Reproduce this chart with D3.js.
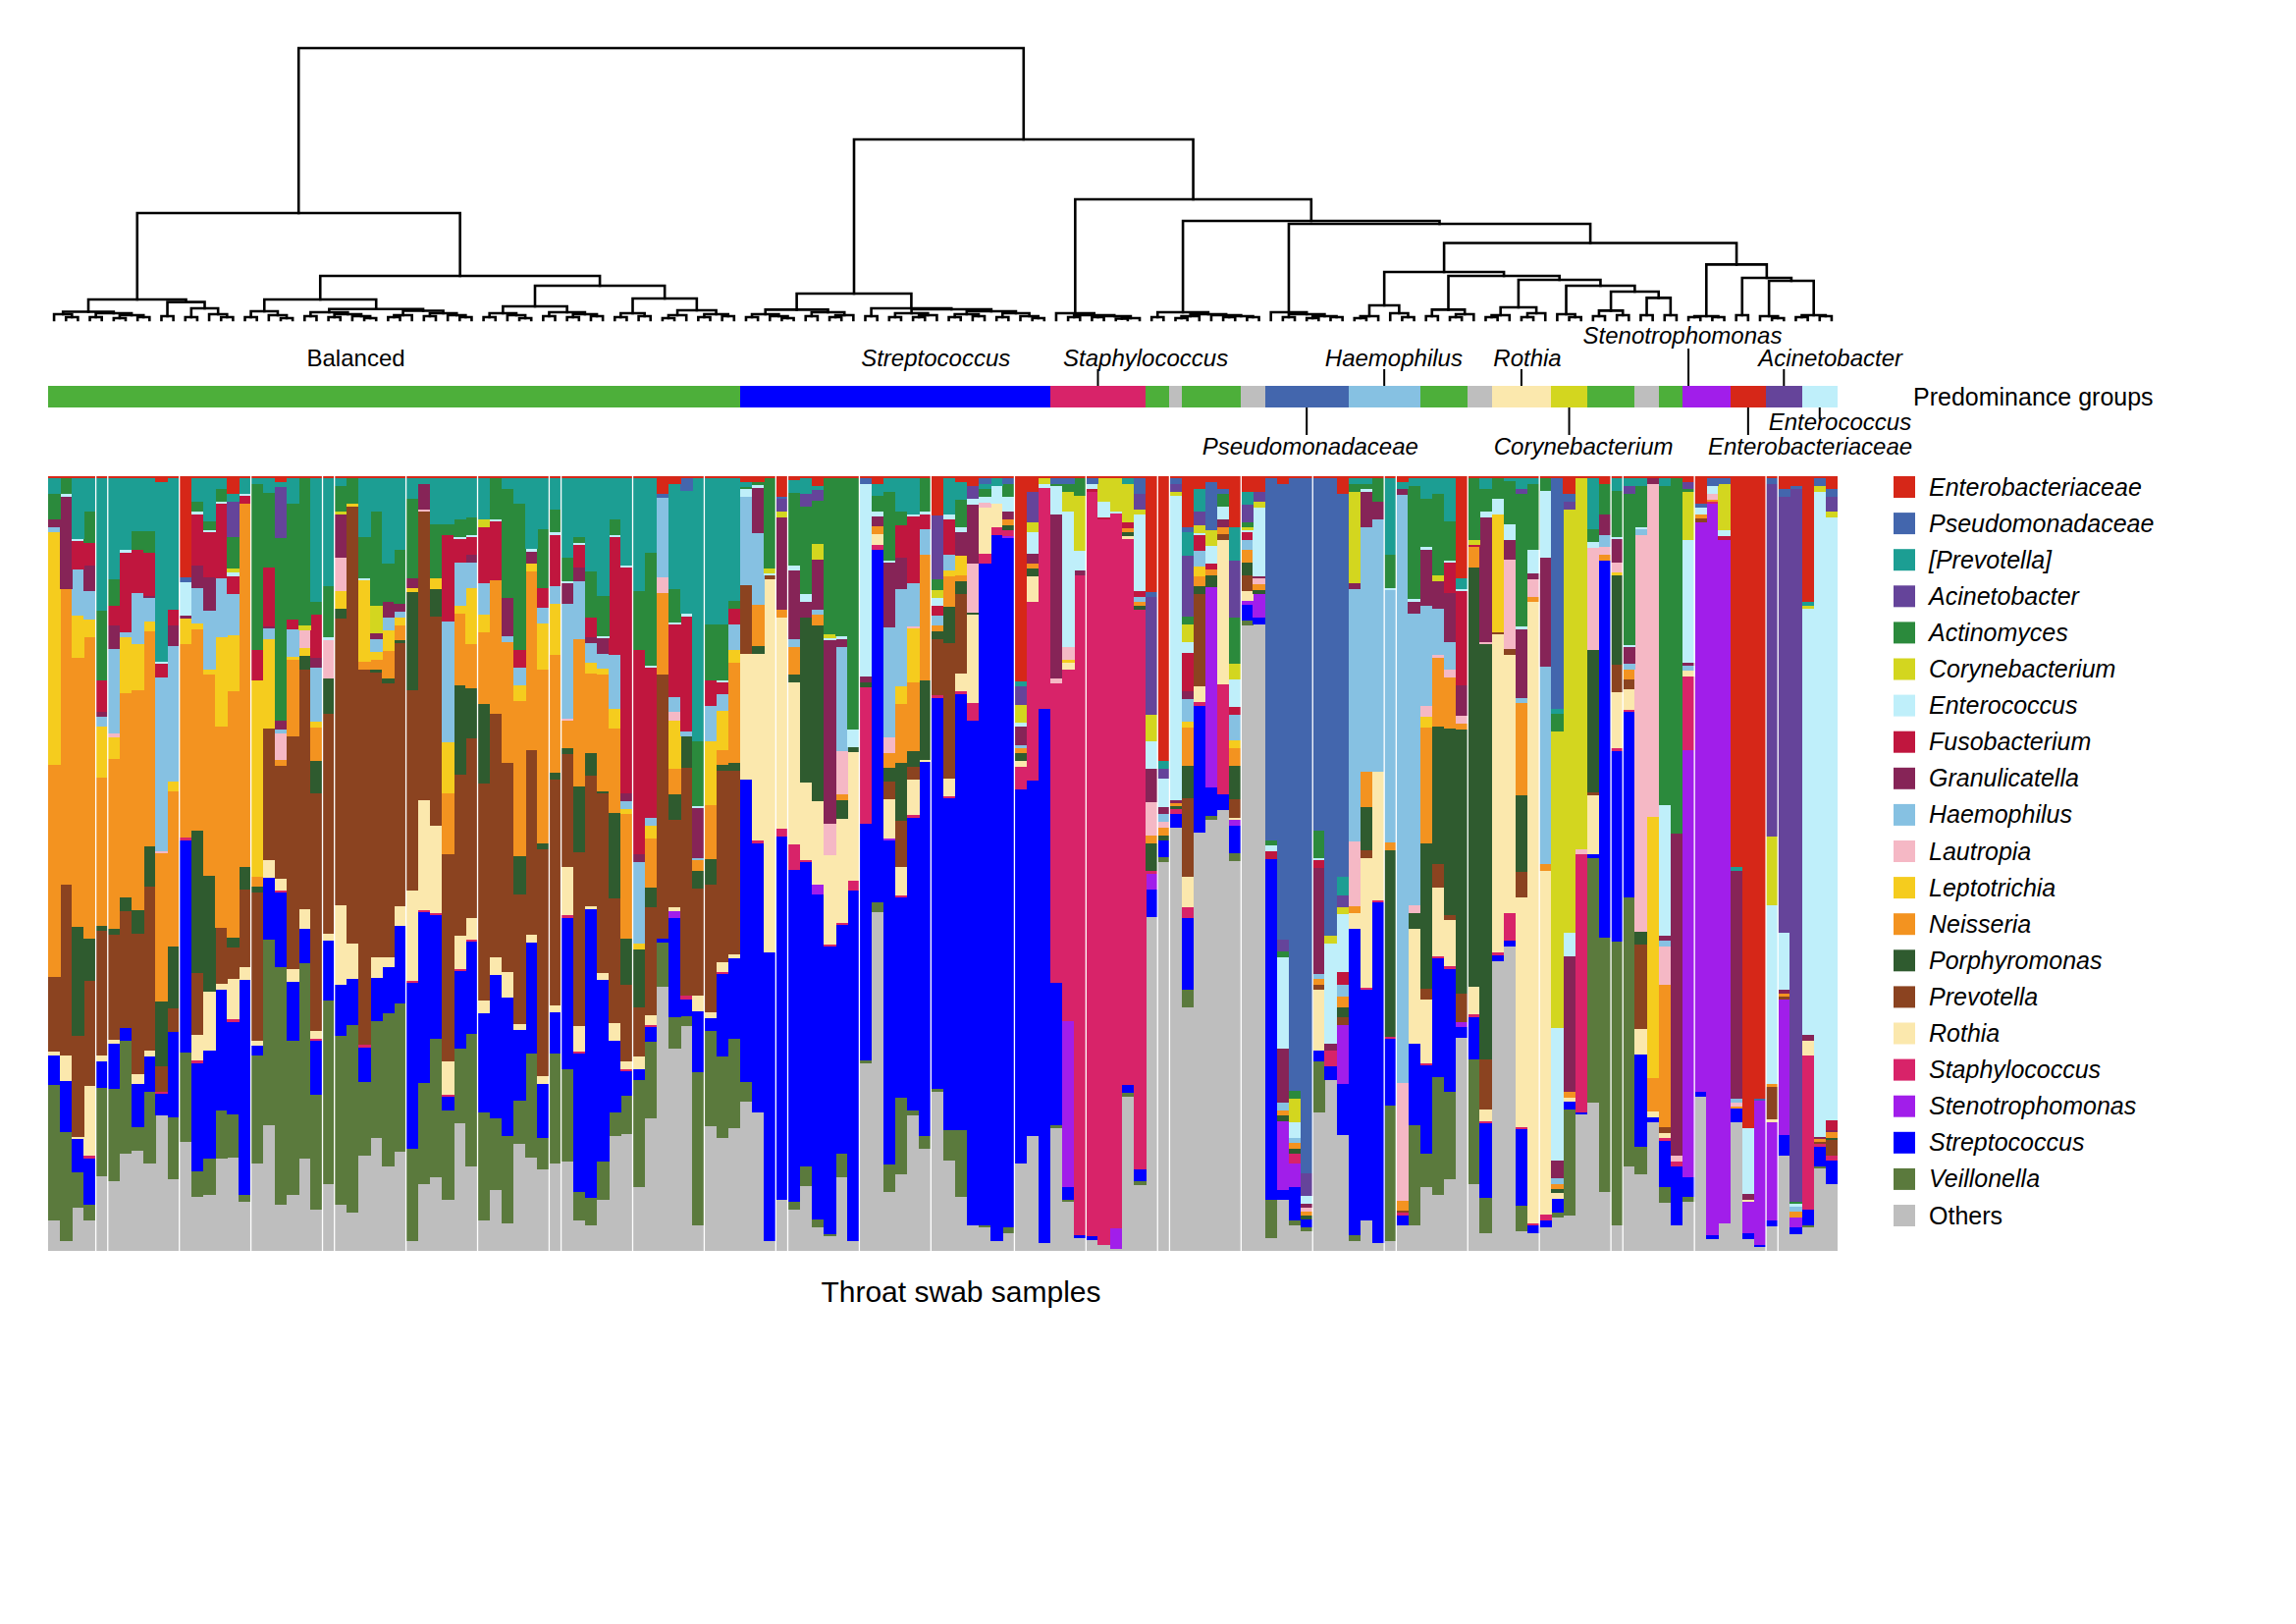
<!DOCTYPE html>
<html><head><meta charset="utf-8">
<script src="https://cdn.jsdelivr.net/npm/d3@7"></script>
<style>html,body{margin:0;padding:0;background:#fff}svg{display:block}</style>
</head><body>
<svg id="chart" width="2339" height="1654"></svg>
<script>
// ---------- taxa (legend order = stack order top -> bottom) ----------
const taxa = ["Enterobacteriaceae","Pseudomonadaceae","[Prevotella]","Acinetobacter","Actinomyces","Corynebacterium","Enterococcus","Fusobacterium","Granulicatella","Haemophilus","Lautropia","Leptotrichia","Neisseria","Porphyromonas","Prevotella","Rothia","Staphylococcus","Stenotrophomonas","Streptococcus","Veillonella","Others"];
const taxonCodes = ["E","p","t","a","x","c","e","f","g","h","l","y","n","m","b","r","s","z","k","v","o"];
const taxonColors = ["#D62718","#4366AD","#1C9E93","#65449A","#2B8A3C","#D3D61F","#BFEFFA","#C0163E","#862457","#86C1E2","#F5B8C5","#F5CC1E","#F39320","#2F5B2F","#8B4320","#FBE8AD","#D82369","#A11EEA","#0000FF","#5B7A3D","#BEBEBE"];

// ---------- per-sample relative abundances (%), samples in dendrogram order ----------
const balancedCluster = [
"E0.3 t2 x3.3 g1 h0.7 y30 n27.5 b9.6 r0.5 k3.8 v17.5 o4",
"E0.3 x2 e0.3 g12 n38 b22 r3.3 k6.6 v14 o1.3",
"E0.3 t7.8 e0.3 f3.7 h6 y5.4 n34.8 m14.2 b13 r0.3 k4.3 v4.6 o5.6",
"E0.3 t4.3 x4 f3 g3.3 h3.6 y2.3 n39 m5.5 b13.6 r9 s0.3 k6 v2 o4",
"E0.3 t17 x9 f4 g0.6 h1.3 y6.6 n19 m0.7 b16 r0.7 k3.5 v11.3 o9.6",
"E0.3 t13 x3.4 f2.6 g3 h11 l0.5 y2.8 n22 m0.7 b13.6 r0.5 k5.8 v12 o9",
"E0.3 t9.3 e0.3 f10.3 h0.7 y7.3 n26.5 m1.7 b15.2 k1.7 v14.6 o12.6",
"E0.3 t6.8 x2.5 f5.6 h6.6 y6 n28.5 m3 b18.2 r1.3 k5.6 v3 o13",
"E0.3 t6.8 x2.8 f5.6 g0.3 h3 y1.3 n27.8 m5.3 b21.2 r0.7 k4.6 v9.3 o11.3",
"E0.7 t23.3 e0.3 f1.7 h22.5 l0.3 n19.2 m8.3 b3.3 s0.3 k2.8 o17.5",
"E0.3 t17 f2 g2.6 h17.5 y1.3 n20 m8 b3 k11 v8 o9.3",
"E13 p0.7 e4.3 g0.3 y3.3 n25 s0.3 k27.3 v11.6 o14",
"E0.3 t3 x1.3 e0.3 f6.6 g3 h4.6 y0.7 n26 m18.5 b8 r3.3 s0.3 k14 v3.3 o7",
"E0.3 t5.6 x1.1 e0.3 f5.8 g4.3 h7.6 y0.7 n26 m15 r7.6 k14 v4.6 o7.3",
"E0.3 t1.3 x1.7 e0.3 f9.6 h7.6 y11.6 n26 b7.3 r0.7 k15.6 v6.3 o11.9",
"E2.3 t1 a4.6 x4 c0.5 e0.5 f2.3 h5.3 y7.3 n31.8 m1.3 b4 r5.3 s0.3 k12 v5.6 o12",
"E0.3 t2 f1 e0.3 n47 m3 b10 r1.7 k27.8 v1 o6.3",
"E0.3 t0.7 x21.5 f4 y25.5 n1.3 m0.7 b19.2 r0.7 k1.3 v14 o11.3",
"E0.3 t1.8 x9.7 f7.6 g0.3 h1.3 y11.6 b17 r2.3 k8 v24 o16.2",
"E0.7 t0.7 a6.6 x23.7 g1.1 h0.5 l3.5 n0.7 b14.6 r1.5 s0.3 k9.6 v30.8 o6",
"E0.3 t3.2 x15 f1.3 h3.6 y0.3 n10 b30 r1.7 k7.6 v19.9 o7.3",
"E0.3 x19 c0.7 l2.3 y1 m1.7 b31 r2.6 k4.5 v25.3 o11.9",
"E0.3 t16 x1.7 f5.6 g1.3 h7 y0.7 n4.3 m4.3 b30.8 r1 s0.3 k7 v14.9 o5.3",
"E0.3 t14 x6.6 e0.3 l5 m4.6 b28.5 r0.8 k7.8 v23.8 o8.6",
"E0.3 t1 x3.3 c0.3 g5.6 l4.4 y2.2 m1.3 b37 r10.3 k6.6 v21.8 o6",
"E0.3 x3.3 y0.3 b56.6 r4.6 k6 v24.2 o5",
"E0.3 t7.6 x5.3 e0.3 y10.6 n1 b48.7 s0.3 k4.5 v9.6 o12.3",
"E0.3 t4.3 x12.2 c3.6 g0.7 h1.7 y1 n1.3 m0.3 b36.9 r2.6 k5.6 v15.2 o14.6",
"E0.3 t11 x5 g2 h1.7 y2.6 n3.6 m0.7 b35.4 r1.3 k6 v19.9 o10.9",
"E0.3 t9.3 x7 g1 h0.7 y1 n2 m0.3 b34.1 r2.6 k10 v19.2 o12.9",
"E0.3 t2.6 x10.3 g1.3 y0.5 m12.6 b26 r11.6 s0.3 k21.4 v11.9 o1.3",
"E0.3 t0.7 g3.3 l0.3 b37.4 r14.2 s0.3 k22 v13.2 o8.6",
"E0.3 t6 x7 y1.3 m3.6 b27.2 r11.3 s0.3 k16.1 v17.9 o9.6",
"E0.3 t6 x1.3 f11.3 h15.6 y6.6 n8 b26.8 r4.3 s0.3 k1.8 v11.6 o6.6",
"E0.3 t5.3 x2.3 e0.3 f3 h5.6 y1 n9.3 m11.6 b20.9 r4.3 s0.3 k10.1 v9.6 o16.6",
"E0.3 t5 x2.3 e0.3 f2.3 g1 h3.3 y7.3 n5.6 m6.6 b23.2 r2.8 s0.3 k11.9 v17.2 o10.9",
"E0.3 t5.3 c1 f7.3 h4 y2.3 n9.3 m10.3 b28.1 r1.7 k12.9 v13.9 o4",
"E0.3 x5.3 e0.3 f7.6 n17.2 b31.5 r2.3 k18.5 v9.3 o7.9",
"E0.3 t1.3 x14.2 g5 h0.7 n15.6 b27.2 r3.3 k17.9 v11.3 o3.6",
"E0.3 t3.3 x19 f2.3 h2.3 y2 n20.2 m5 b16.9 r0.7 k9.3 v5.6 o13.9",
"E0.3 t9 e0.3 g1.5 y1 n22.8 b23.5 r1 k14.2 v13.2 o11.9",
"E0.3 t6.6 x7.6 f2.6 h2 y6 n22.5 m0.7 b29.5 r1 k7 v4 o10.6",
"E0.3 t4 x3 e0.3 f6.6 h2.3 y6.6 n15.2 m1 b29.1 r1 k5.3 v14.2 o11.3",
"E0.3 t10.3 x3 e0.3 g2.6 h14.9 l0.3 n3.6 m0.7 b14.6 r6.3 s0.3 k19.7 v11.9 o11.6",
"E0.3 t7.6 x0.7 e0.3 f3 g1.7 h7.6 n19 m8.6 b22.5 r3.3 s0.3 k18 v3.6 o4",
"E0.3 t12 x6 f2.6 g0.7 h2.6 y1.3 n10.3 m3 b16.9 r0.3 k37.4 v3.6 o3.3",
"E0.3 t15.2 x5.2 e0.3 g2 h2 y0.7 n15.2 m0.3 b23.2 r1 k23.5 v5 o6.6",
"E0.3 t5.3 x2 e0.3 f15.2 h7 y2.6 n11 m11 b16.2 r2.3 k9.3 v3 o14.9",
"E0.3 t11.3 e0.3 f29.3 g1 h1 y0.7 n16.2 m6 b9.9 r1 s0.3 k3.1 v5 o15.2",
"E0.3 t14.6 x7.6 f26.5 g1 h10.6 y0.7 m7.6 b6.3 r1.7 k1.3 v13.9 o8.3",
"E0.3 t9.6 x14.6 e0.3 f19.5 h1 y1.7 n6.3 m2.6 b13.9 r1.3 s0.3 k1.9 v9.9 o17.2",
"E2.3 p0.5 h10.3 l2 n10.6 b34.1 k0.5 v5.8 o34.1",
"E1 t13.6 x4.3 e0.3 f9.4 h1.9 l1.1 y6.2 n3.3 m3.4 b11.3 r0.5 z0.9 k12.8 v4 o26.2",
"E0.3 p1.6 t15.9 e0.3 f14.9 h0.7 m4 b29.5 s0.5 k2.1 v1.3 o29.1",
"E0.3 t34.1 x8.3 e0.3 g6.5 h0.3 n1.3 m2.3 b13.9 r2 k7.9 v19.9 o3.3",
"E0.3 t18.9 x7.3 f3.3 h4.6 y8.3 n7 m3.3 b16.6 r0.7 k1.7 v12.3 o16.2",
"E0.3 t18.9 x7.3 e0.3 f1.5 h2.2 y5 n2 m0.7 b24.8 r1.3 s0.3 k10.7 v10.5 o14.7",
"E0.3 t15.9 x1 f2 h3.3 y1.7 n12.9 m1 b23.8 r0.5 k10.4 v11.6 o15.9"
];
const streptococcusCluster = [
"E0.7 t0.7 x0.3 e1 h11.3 b8.9 r16.2 k39 v2.6 o19.2",
"E0.7 x0.5 e0.3 g5.8 h9.3 n5.3 m1 r24.2 s0.3 k34.8 o17.9",
"E0.3 x11.6 c0.7 e0.3 b0.5 r48.3 k37.4 o1.3",
"E2.6 p0.3 a1.7 c0.7 g11.9 n1 r27.2 s1 k46.7 o6.6",
"E0.5 t1.7 x9.3 e0.7 g8.9 h1 n3.6 m1 r20.9 s3.3 k43 v1 o5.3",
"E0.3 t2 a1.6 x11.3 e1 g2 m21.2 r9.9 s0.3 k39.1 v2.6 o8.3",
"E1.3 t0.5 a1.3 x5.6 c2 g6.3 h0.7 n1.3 m22.5 r10.6 z1.3 k41.4 v1 o3",
"E0.3 x20.2 c0.5 e0.3 g23.8 l4 r11.6 s0.3 k37.2 v0.3 o1.9",
"E0.3 x20.5 e0.3 g1 h13.6 l5.6 n0.7 m2.5 r13.4 s0.3 k29.7 v3 o9.6",
"E0.3 x32.5 e2.3 m0.7 r16.6 s1.3 k45.4 o1.3",
"E0.3 p0.7 e24.8 g0.7 m0.7 s17.6 k30.5 v0.3 o24.2",
"E1 t1.5 x2 e0.7 g1.3 n1 r1.3 s0.7 k45.4 v1.3 o43.7",
"E0.3 t1.7 x8.9 e0.3 g8.3 h14.2 l2 n1.9 m1.8 b2.3 r5 z0.3 k41.7 v3.6 o7.6",
"E0.3 t4.3 x1.7 f4.3 g4 h12.6 y2.3 n7.6 m7.6 b6 r3.6 s0.3 k26 v9.9 o9.9",
"E0.3 t4.6 e0.3 f8.6 h5.6 l0.3 y7 n8.9 m2 b1.7 r4.6 s0.3 k37.9 v0.7 o17.5",
"E0.3 x4.3 e0.3 f2 h3.3 n16.2 m10.3 r0.3 k48.3 v1.7 o13.2",
"E5 a8.3 x1.3 c1 e1 f1.3 h1.3 n0.7 m1 b7.3 s0.3 k50.3 v0.3 o20.5",
"E0.3 t4.6 e0.7 f4.6 h2 y0.7 n4 m4.6 b17.5 r2.3 s0.3 k42.8 v4 o11.6",
"E0.7 t2.3 x3.6 e0.7 g3 y2.6 n0.7 m1.7 b10.3 r2.3 s0.3 k56.5 v8.6 o7",
"E1.3 a1.6 e0.7 g7.6 l6.3 m0.3 r11.3 s2.3 k64.9 o3.3",
"E0.3 p0.7 t0.7 x1 e0.7 l0.7 r6 s1.3 k86 v0.3 o3",
"E0.3 t1 e2.3 r3 s1 k91.4 o1.3",
"E0.3 p0.7 x1.6 e2 g1 n0.7 m0.7 s0.7 z0.3 k89 v0.7 o2.3",
"E26.5 t0.7 a2.3 c2.3 e0.5 g2.5 h0.3 n0.7 m1 r0.7 s3 k48.3 o11.3",
"E2 a4 c1.2 e2.8 g1.3 n0.7 m1 r3.3 s23.2 k46 o14.9",
"E0.3 c0.7 e0.5 s28.8 k69.5 o1"
];
const staphylococcusCluster = [
"E0.3 p0.7 x0.3 e3.6 g21.2 l0.7 s38.7 k18.5 v0.3 o15.9",
"E0.3 p0.7 x1 c2.6 e17.5 l1.7 y0.3 r1 s45.4 z21.5 k1.7 v0.3 o6.3",
"E0.3 x2.3 c7 e2.6 g0.7 s85.4 k0.3 o1.7",
"E0.3 p0.7 e0.7 f0.3 s96.4 k0.5 o1.4",
"E0.3 c3 e2 f0.3 s94 o0.7",
"E0.3 c4.3 e0.3 s92.7 z2.6 o0.3",
"E0.3 t0.7 c5 f0.7 n0.5 m0.5 r0.5 s70.7 k1 v0.5 o20",
"E0.3 p2 a2 c0.7 e9.9 f0.7 h0.7 n0.5 m0.5 s72.6 k1.5 v0.5 o8.5"
];
const mixedClusterA = [
"E14.9 p0.7 a15.2 c3.3 e3.6 g4.3 l4.3 n1 m3.6 s0.3 z2 k3.6 o43",
"E36.8 t1 a1.3 e3.6 g1 h1 l0.7 n1 m0.7 k2.1 v0.7 o50.2",
"E0.3 p0.7 a1 c0.5 e39.6 g0.3 n0.5 m0.3 s0.7 k1.7 o55",
"E6.6 p0.7 t3 a7.9 x1 c2.3 e1.3 f5 g1 h3 y0.7 n5 m4.2 b10.1 r4 s1.3 k9.3 v2.3 o31.5",
"E1.6 t3 a1.7 c1 e0.3 f2 h2 y1.3 n1.3 m1 b11.9 r2 s0.5 k16.4 o54",
"E0.7 p6.3 c2 e2.3 f0.7 n0.7 m1.6 z25.8 k3.6 v0.5 o55.5",
"E1.6 p0.7 x1.6 e1.6 g1 n1 b0.7 r18.5 s14.2 k2 o56.6",
"E6.6 t4.3 a7.3 x6 c2 e3.6 f1 h3.3 y1 n2.3 m4.3 b2.3 r0.3 z0.8 k3.5 v1 o50.3",
"E2 t1.6 a2.3 x0.7 c0.3 e0.3 f1 h1.3 n1.6 m1.6 b2 r1.3 z0.5 k2 v0.7 o80.3",
"E2 a1.3 c0.7 e8.9 g0.3 l0.7 n0.8 m0.5 z3 k1 o80.8"
];
const pseudomonadCluster = [
"E0.3 p46.7 x0.7 e0.7 f1 k44 v5 o1.6",
"E1 p59 a1.6 x0.7 e11.9 g7 h1 n0.7 m0.7 z8.9 k1.3 o6.6",
"E0.3 p79.5 x1 c3 e2 h0.7 n0.7 m0.7 s1.3 z3 k4.3 v0.7 o3.3",
"E0.3 p90 a3 e1 g0.5 l0.5 n0.5 m0.5 k1 v0.5 o2.6",
"E0.3 p45.4 x3.6 e0.3 f1 g13.6 h0.7 n0.7 b0.7 r7.9 k1.3 v6.6 o17.9",
"E0.3 p59.3 c1 e12.9 g1 s2 k1.7 o22.2",
"E2.3 p49.3 t2.3 a1.6 c0.8 e7.5 f1.6 h1.6 n1.3 m1.3 b1 z7.6 k6.6 o14.9"
];
const mixedClusterB = [
"E0.3 t0.7 x1 c11.9 g0.7 h32.8 l8.3 n0.9 r2.1 k39.7 v0.7 o1.3",
"E0.3 t0.7 x0.7 e0.3 g4.6 h31.8 n4.6 m5.6 b1 r16.9 s0.3 k29.9 o4",
"E0.3 x3 g2.3 h32.8 r16.6 s0.3 k44.2 o1",
"E0.3 t9.9 x4.3 e0.3 h32.6 n1 m24.2 s0.3 k8.6 v17.5 o1.3",
"E0.7 t1 g0.7 h75.8 l15.2 n1.3 b0.3 s0.3 k1.3 o3.3",
"E0.3 t1 x14.6 e0.3 g1.6 h37.7 l1 m2 r14.9 k10.6 v12.9 o3.3",
"E0.3 t2.6 x6.3 e0.3 g7.3 h12.9 l1.5 y1.3 n15 m18.9 b1.3 r8.3 s0.3 k11.4 v4.3 o8.3",
"E0.3 t2 x10.6 c0.7 g3.6 h6 l0.3 n8.9 m17.9 b3 r8.9 s0.3 k15.4 v15.2 o7.3",
"E0.3 t5.6 x5 e0.3 f4 g6.3 h3.6 l1 n6.6 m24.2 b0.7 r6 s0.3 k16 v11.3 o9.3",
"E13.2 t1.3 e0.3 f12.1 g4 l1 n0.7 m34.1 b3.6 z0.7 k1.3 o27.5",
"E0.3 x7.9 c0.7 f0.3 n2.6 m54.3 r3.6 s0.3 k5.5 v16.2 o8.6",
"E0.3 t1.3 x3 e0.7 g16.2 l0.3 m53.8 b6.6 r1.5 s0.3 k9.6 v4.6 o2.3",
"E0.3 x2.6 e2 y15.2 b0.3 r41.1 s0.3 k0.8 o37.4",
"E0.3 t0.3 x5.6 e2 g2.6 l11.6 b0.7 r33.4 s3.6 k0.7 o39.4",
"E0.3 t1.3 a0.7 x17.2 e0.3 g8.9 h0.7 n11.9 m9.9 b3.3 r29.8 s0.3 k9.8 v3.3 o2.6",
"E0.3 t0.7 x8.6 e3 g0.7 l2.3 n0.7 r80.5 s0.3 k1 o2.3",
"E0.3 x1.6 e8.6 g14.1 h25.6 n0.9 r44.5 s0.7 k1 o3",
"E0.3 p29.8 t0.7 x2.3 c38.4 e17.2 g2.3 h0.7 n0.7 m0.5 r0.8 k1.7 v0.7 o4.3",
"E2.3 p1 a1 c54.6 e3 g17.5 n0.7 r0.6 k1 v13.6 o4.6",
"E0.3 c48 l0.7 s33.4 k0.3 o17.7",
"E0.3 t6.6 x1.6 e0.7 l13.2 m18.5 b0.3 r7.6 k0.5 v31.6 o19.2",
"E1 x4 g2.6 h1.5 l1.1 n0.7 k48.7 v32.8 o7.6",
"E0.3 t1.6 x6 e0.3 g3 l1.3 y0.3 m11.6 b3.6 r7.3 s0.3 k24.7 v36.8 o3.3",
"E0.3 t1 a1 x19.5 e0.3 g2.2 h0.7 n1.3 b1.3 r2.6 s0.3 k24 v34.8 o10.9",
"E0.3 t1 x5.3 e0.3 h0.7 l51.3 m1.7 b10.9 r3.3 k11.9 v3.6 o9.9",
"E0.3 g0.7 l43 y33.8 n4.3 r0.7 k0.7 o16.6",
"E0.3 t1 x41.4 e16.9 g0.7 h0.7 l5 n18.5 b0.7 r0.7 s0.3 k6 v2 o6.3",
"E0.3 x46 g41.7 l0.7 s0.7 k7.6 o3.3"
];
const mixedClusterC = [
"E0.7 a1 x0.3 c6.3 e15.9 g0.3 h0.7 r0.7 s9.6 z55.3 k2.6 v0.7 o6.3",
"E3.6 p0.5 e0.9 n0.5 b0.5 z73.5 k0.7 o19.9",
"E0.3 p1 e1 l0.7 n0.3 s0.3 z94.7 k0.5 o1.5",
"E0.3 p0.7 c6 e0.7 f0.5 z88.5 o3.6",
"E50.3 t0.5 g29.3 h0.5 l0.5 n0.3 k1.7 o16.6",
"E84.1 e8.6 g0.7 r0.3 z4 k0.8 o1.5",
"E80.5 p0.3 z18.7 k0.2 o0.5",
"E0.3 p0.7 a45.7 c8.9 e23.2 n0.3 b4.3 r0.3 z12.7 k0.8 o3.2",
"E1.6 p1 a56.3 e7.3 g0.5 n0.4 b0.4 z17.5 k2.6 o12.3",
"E1.3 p0.3 a91.7 x0.3 e0.3 h0.7 n0.7 z1.3 k0.9 o2.1",
"E16.2 t0.5 c0.4 e55.1 g0.7 r2 s19.9 k2 v0.3 o3",
"E0.3 p1 c0.7 e83.4 g0.3 n0.3 b0.3 s0.3 k2.6 v0.3 o10.6",
"E1.6 p1 a2 c0.7 e77.8 f1.3 g0.3 n0.7 m0.3 b2 s0.7 k3 o8.6"
];

// ---------- predominance groups (runs of consecutive samples) ----------
const predominanceRuns = [["Balanced",58],["Streptococcus",26],["Staphylococcus",8],["Balanced",2],["Others",1],["Balanced",5],["Others",2],["Pseudomonadaceae",7],["Haemophilus",6],["Balanced",4],["Others",2],["Rothia",5],["Corynebacterium",3],["Balanced",4],["Others",2],["Balanced",2],["Stenotrophomonas",4],["Enterobacteriaceae",3],["Acinetobacter",3],["Enterococcus",3]];
const groupNames = ["Balanced","Streptococcus","Staphylococcus","Others","Pseudomonadaceae","Haemophilus","Rothia","Corynebacterium","Stenotrophomonas","Enterobacteriaceae","Acinetobacter","Enterococcus"];
const groupColors = ["#4DAF3A","#0000FF","#D82369","#BEBEBE","#4366AD","#86C1E2","#FBE8AD","#D3D61F","#A11EEA","#D62718","#65449A","#BFEFFA"];
// group labels: [text, position (sample units), row, tick position or null, italic]
const groupLabels = [
["Balanced",25.8,"top",null,false],
["Streptococcus",74.4,"top",null,true],
["Staphylococcus",92.0,"top",88.0,true],
["Haemophilus",112.8,"top",112.0,true],
["Rothia",124.0,"top",123.5,true],
["Stenotrophomonas",137.0,"high",137.5,true],
["Acinetobacter",149.4,"top",145.5,true],
["Pseudomonadaceae",105.8,"bottom",105.5,true],
["Corynebacterium",128.7,"bottom",127.5,true],
["Enterobacteriaceae",147.7,"bottom",142.5,true],
["Enterococcus",150.2,"low",148.5,true]
];
// sample boundaries where the original raster shows thin white seams
const seamBoundaries = [4,5,11,17,23,24,30,36,42,43,49,55,61,62,68,74,81,87,93,94,100,106,112,113,119,125,131,132,138,144,145];

// ---------- dendrogram: [mergeHeight, left, right]; leaves = sample index ----------
const dendrogramTree =
[277,
 [109,
  [21,
   [8.5, [6, 0, [3, 1, 2]], [7, [3, 3, 4], [5, [2, 5, 6], [3, 7, 8]]]],
   [18.4, [4, 9, 10], [12, [3, 11, 12], [6, 13, [3, 14, 15]]]]],
  [45,
   [21,
    [9, [3, 16, 17], [5, 18, [2, 19, 20]]],
    [11.3, [8, [4, 21, 22], [6, [3, 23, 24], [4, 25, [2, 26, 27]]]],
           [9.5, [5, [3, 28, 29], 30], [7, [4, 31, 32], [5, 33, [3, 34, 35]]]]]],
   [35,
    [14, [7, [3, 36, 37], [5, 38, [2, 39, 40]]], [8, [4, 41, 42], [6, [3, 43, 44], [4, 45, 46]]]],
    [22, [7, [3, 47, 48], [4, 49, 50]], [10, [5, [2, 51, 52], 53], [6, [3, 54, 55], [4, 56, 57]]]]]]],
 [184,
  [27,
   [10.6, [6, [3, 58, 59], [4, 60, [2, 61, 62]]], [8, [4, 63, 64], [5, [3, 65, 66], 67]]],
   [12, [4, 68, 69], [11, [7, [3, 70, 71], [5, [3, 72, 73], 74]], [9, [6, [3, 75, 76], [4, 77, 78]], [7, [3, 79, 80], [4, 81, [2, 82, 83]]]]]]],
  [123,
   [7, 84, [5, [3, 85, 86], [4, [3, 87, 88], [2, [1.5, 89, 90], 91]]]],
   [101,
    [8, [3, 92, 93], [6, [4, [2, 94, 95], 96], [5, 97, [4, [3, 98, 99], [3, 100, 101]]]]],
    [98,
     [8, 102, [6, [3, 103, 104], [4, [2, 105, 106], [3, 107, 108]]]],
     [78.5,
      [49,
       [15, [4, [2, 109, 110], 111], [7, 112, [3, 113, 114]]],
       [45,
        [10.6, [4, 115, 116], [6, [3, 117, 118], 119]],
        [41,
         [13, [5, [3, 120, 121], 122], [7, [3, 123, 124], 125]],
         [35,
          [6, 126, [3, 127, 128]],
          [29,
           [9.6, [4, 129, 130], [5, 131, 132]],
           [22.6, [5, 133, 134], [5, 135, 136]]]]]]],
      [56.6,
       [4, [3, 137, 138], [3, 139, 140]],
       [43, [5, 141, 142], [40, [4, 143, [2, 144, 145]], [5, [3, 146, 147], [4, 148, 149]]]]]]]]]]];

// ---------- drawing ----------
const FONT = "'Liberation Sans', Arial, Helvetica, sans-serif";
const svg = d3.select("#chart");
svg.append("rect").attr("width",2339).attr("height",1654).attr("fill","#fff");

const sampleStrings = [].concat(balancedCluster, streptococcusCluster, staphylococcusCluster, mixedClusterA, pseudomonadCluster, mixedClusterB, mixedClusterC);
const codeToTaxon = new Map(taxonCodes.map((c,i)=>[c,taxa[i]]));
const samples = sampleStrings.map((str,i)=>{
  const row = {id:i};
  taxa.forEach(t=>row[t]=0);
  str.trim().split(/\s+/).forEach(tok=>{ row[codeToTaxon.get(tok[0])] += +tok.slice(1); });
  const total = d3.sum(taxa, t=>row[t]);
  taxa.forEach(t=>row[t] = row[t]/total*100);
  return row;
});
const N = samples.length;

const x = d3.scaleBand().domain(d3.range(N)).range([49,1872]).paddingInner(0).paddingOuter(0);
const xu = d3.scaleLinear().domain([0,N]).range([49,1872]);
const y = d3.scaleLinear().domain([0,100]).range([1274,485]);
const color = d3.scaleOrdinal().domain(taxa).range(taxonColors);

// stacked bars
const stack = d3.stack().keys(taxa.slice().reverse());
const series = stack(samples);
const gBars = svg.append("g").attr("shape-rendering","crispEdges");
gBars.selectAll("g").data(series).join("g").attr("fill",s=>color(s.key))
  .selectAll("rect").data(s=>s.filter(d=>d[1]-d[0]>0.0001)).join("rect")
  .attr("x",d=>x(d.data.id)).attr("width",x.bandwidth()+0.4)
  .attr("y",d=>y(d[1])).attr("height",d=>y(d[0])-y(d[1]));

// thin white seams between some bars (as in the original raster)
svg.append("g").selectAll("line").data(seamBoundaries).join("line")
  .attr("x1",d=>xu(d)).attr("x2",d=>xu(d)).attr("y1",y(100)).attr("y2",y(0))
  .attr("stroke","#fff").attr("stroke-width",1.3);

// dendrogram
const yDend = d3.scaleLinear().domain([0,277]).range([326,49]);
const gDend = svg.append("g").attr("fill","none").attr("stroke","#000").attr("stroke-width",2.6).attr("stroke-linecap","square");
function layout(node){
  if(typeof node === "number") return {x: x(node)+x.bandwidth()/2, y: yDend(0)};
  const [h,l,r] = node;
  const L = layout(l), R = layout(r);
  const Y = yDend(h);
  gDend.append("path").attr("d",`M${L.x},${L.y}V${Y}H${R.x}V${R.y}`);
  return {x:(L.x+R.x)/2, y:Y};
}
layout(dendrogramTree);

// predominance bar
const groupColor = d3.scaleOrdinal().domain(groupNames).range(groupColors);
let start = 0;
const runs = predominanceRuns.map(([g,n])=>{ const r={g,start,n}; start+=n; return r; });
svg.append("g").attr("shape-rendering","crispEdges").selectAll("rect").data(runs).join("rect")
  .attr("x",d=>x(d.start)).attr("width",d=>x(d.start+d.n-1)+x.bandwidth()-x(d.start))
  .attr("y",393).attr("height",22).attr("fill",d=>groupColor(d.g));
svg.append("text").attr("x",1949).attr("y",413).attr("font-family",FONT).attr("font-size",25)
  .attr("fill","#000").text("Predominance groups");

// group labels and ticks
const rowY = {top:373, high:350, bottom:463, low:438};
const tickY = {top:[376,393], high:[355,393], bottom:[415,443], low:[415,427]};
const gLab = svg.append("g");
groupLabels.forEach(([txt,at,row,tick,ital])=>{
  gLab.append("text").attr("x",xu(at)).attr("y",rowY[row]).attr("text-anchor","middle")
    .attr("font-family",FONT).attr("font-size",24).attr("font-style",ital?"italic":"normal").text(txt);
  if(tick!==null){
    gLab.append("line").attr("x1",xu(tick)).attr("x2",xu(tick)).attr("y1",tickY[row][0]).attr("y2",tickY[row][1])
      .attr("stroke","#000").attr("stroke-width",2);
  }
});

// x label
svg.append("text").attr("x",979).attr("y",1326).attr("text-anchor","middle").attr("font-family",FONT)
  .attr("font-size",30).text("Throat swab samples");

// legend
const lg = svg.append("g");
const ly = d3.scalePoint().domain(taxa).range([485,1227]);
taxa.forEach(t=>{
  lg.append("rect").attr("x",1929).attr("y",ly(t)).attr("width",22).attr("height",22).attr("fill",color(t));
  lg.append("text").attr("x",1965).attr("y",ly(t)+19.5).attr("font-family",FONT).attr("font-size",25)
    .attr("font-style",t==="Others"?"normal":"italic").text(t);
});
</script>
</body></html>
